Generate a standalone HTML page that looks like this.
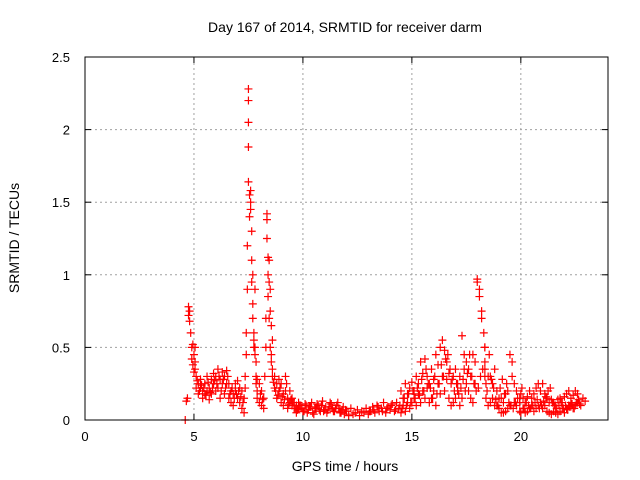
<!DOCTYPE html>
<html><head><meta charset="utf-8"><style>
html,body{margin:0;padding:0;background:#fff;}
svg{display:block;font-family:"Liberation Sans",sans-serif;}
</style></head><body>
<svg id="chart" width="640" height="480">
<rect width="640" height="480" fill="#fff"/>
<text x="345" y="32" text-anchor="middle" font-size="14">Day 167 of 2014, SRMTID for receiver darm</text>
<text x="345" y="471" text-anchor="middle" font-size="14">GPS time / hours</text>
<text transform="translate(19,238) rotate(-90)" text-anchor="middle" font-size="14">SRMTID / TECUs</text>
<g id="grid"></g><g id="axes"></g><g id="marks"></g>
<rect x="85" y="57" width="523" height="363" fill="none" stroke="#000" stroke-width="1"/>
</svg>
<script>
const xTicks=[0,5,10,15,20];
const yTicks=[0,0.5,1,1.5,2,2.5];
const yTickLabels=["0","0.5","1","1.5","2","2.5"];
const hours=[4.6,4.65,4.7,4.75,4.75,4.8,4.8,4.85,4.9,4.9,4.95,4.95,5.0,5.0,5.05,5.05,5.1,5.1,5.2,5.2,5.3,5.3,5.4,5.4,5.5,5.5,5.6,5.6,5.7,5.7,5.8,5.8,5.9,5.9,6.0,6.0,6.1,6.1,6.2,6.2,6.3,6.3,6.4,6.4,6.5,6.5,6.6,6.6,6.7,6.7,6.8,6.8,6.9,6.9,7.0,7.0,7.1,7.1,7.2,7.2,7.3,7.3,7.35,7.35,7.4,7.4,7.45,7.45,7.5,7.5,7.5,7.5,7.5,7.55,7.55,7.6,7.6,7.6,7.65,7.65,7.65,7.7,7.7,7.7,7.75,7.75,7.75,7.8,7.8,7.8,7.85,7.85,7.85,7.9,7.9,7.9,8.0,8.0,8.1,8.1,8.2,8.2,8.25,8.3,8.3,8.35,8.35,8.35,8.4,8.4,8.4,8.45,8.45,8.45,8.5,8.5,8.5,8.55,8.55,8.55,8.6,8.6,8.6,8.7,8.7,8.8,8.8,8.9,8.9,9.0,9.0,9.1,9.1,9.2,9.2,9.3,9.3,9.4,9.4,9.5,9.5,9.6,9.6,9.7,9.7,9.8,9.8,9.9,10.0,10.1,10.2,10.3,10.4,10.5,10.6,10.7,10.8,10.9,11.0,11.1,11.2,11.3,11.4,11.5,11.6,11.7,11.8,11.9,12.0,12.1,12.2,12.3,12.4,12.5,12.6,12.7,12.8,12.9,13.0,13.1,13.2,13.3,13.4,13.5,13.6,13.7,13.8,13.9,14.0,14.1,14.2,14.3,14.4,14.5,14.5,14.6,14.6,14.7,14.7,14.8,14.8,14.9,14.9,15.0,15.0,15.1,15.1,15.2,15.2,15.3,15.3,15.4,15.4,15.5,15.5,15.6,15.6,15.7,15.7,15.8,15.8,15.9,15.9,16.0,16.0,16.1,16.1,16.2,16.2,16.3,16.3,16.4,16.4,16.5,16.5,16.6,16.6,16.7,16.7,16.8,16.8,16.9,16.9,17.0,17.0,17.1,17.1,17.2,17.2,17.3,17.3,17.4,17.4,17.5,17.5,17.6,17.6,17.7,17.7,17.8,17.8,17.9,17.9,18.0,18.0,18.1,18.1,18.2,18.2,18.3,18.35,18.35,18.35,18.35,18.35,18.4,18.4,18.45,18.5,18.5,18.6,18.6,18.7,18.7,18.8,18.8,18.9,18.9,19.0,19.0,19.1,19.1,19.2,19.2,19.3,19.3,19.4,19.4,19.5,19.5,19.6,19.6,19.7,19.7,19.8,19.8,19.95,19.95,19.95,20.0,20.0,20.1,20.1,20.2,20.2,20.3,20.3,20.4,20.4,20.5,20.5,20.6,20.6,20.7,20.7,20.8,20.8,20.9,20.9,21.0,21.0,21.1,21.1,21.2,21.2,21.3,21.3,21.4,21.4,21.5,21.5,21.6,21.6,21.7,21.7,21.8,21.8,21.9,21.9,22.0,22.0,22.1,22.1,22.2,22.2,22.3,22.3,22.4,22.4,22.5,22.5,22.6,22.6,22.7,22.7,22.8,22.8,22.9,22.9,23.0,23.0];
const tec=[0.0,0.13,0.15,0.78,0.72,0.75,0.68,0.6,0.5,0.42,0.52,0.38,0.45,0.33,0.35,0.5,0.3,0.22,0.25,0.18,0.22,0.28,0.2,0.15,0.25,0.18,0.3,0.2,0.22,0.14,0.28,0.18,0.25,0.32,0.3,0.2,0.35,0.22,0.28,0.15,0.33,0.25,0.3,0.18,0.34,0.25,0.25,0.15,0.2,0.12,0.18,0.1,0.25,0.2,0.27,0.15,0.22,0.12,0.2,0.08,0.15,0.05,0.22,0.3,0.45,0.6,0.9,1.2,2.28,2.2,2.05,1.88,1.64,1.4,1.55,1.58,1.5,1.45,1.3,1.1,0.95,0.8,0.7,1.0,0.6,0.5,0.55,0.5,0.45,0.9,0.4,0.3,0.25,0.2,0.28,0.15,0.25,0.12,0.2,0.1,0.15,0.08,0.3,0.5,0.7,1.42,1.38,1.25,1.12,1.0,0.85,1.1,0.95,0.7,0.9,0.75,0.5,0.65,0.45,0.4,0.55,0.35,0.3,0.3,0.22,0.25,0.15,0.2,0.28,0.25,0.12,0.18,0.1,0.2,0.3,0.15,0.08,0.12,0.2,0.1,0.15,0.08,0.12,0.1,0.05,0.08,0.12,0.1,0.06,0.11,0.05,0.09,0.12,0.04,0.08,0.1,0.06,0.13,0.07,0.05,0.09,0.11,0.06,0.08,0.12,0.05,0.07,0.04,0.06,0.03,0.08,0.04,0.05,0.07,0.03,0.06,0.05,0.08,0.04,0.06,0.09,0.05,0.1,0.06,0.08,0.12,0.05,0.09,0.07,0.11,0.06,0.12,0.08,0.05,0.2,0.1,0.15,0.06,0.25,0.12,0.18,0.08,0.22,0.12,0.26,0.15,0.2,0.1,0.3,0.18,0.25,0.12,0.4,0.2,0.32,0.15,0.42,0.22,0.3,0.12,0.25,0.15,0.35,0.2,0.28,0.1,0.45,0.25,0.38,0.18,0.5,0.3,0.55,0.2,0.48,0.28,0.4,0.15,0.32,0.1,0.25,0.12,0.3,0.15,0.35,0.2,0.25,0.1,0.3,0.15,0.58,0.35,0.45,0.25,0.4,0.2,0.35,0.15,0.3,0.12,0.45,0.25,0.4,0.97,0.95,0.9,0.85,0.75,0.7,0.6,0.5,0.5,0.4,0.35,0.3,0.25,0.15,0.2,0.1,0.3,0.12,0.3,0.15,0.25,0.1,0.35,0.1,0.2,0.08,0.15,0.05,0.15,0.05,0.12,0.06,0.18,0.08,0.2,0.1,0.45,0.4,0.3,0.25,0.12,0.2,0.1,0.15,0.06,0.12,0.05,0.18,0.08,0.15,0.05,0.12,0.06,0.16,0.08,0.2,0.1,0.15,0.06,0.18,0.08,0.22,0.1,0.25,0.12,0.2,0.08,0.25,0.1,0.18,0.06,0.15,0.05,0.12,0.04,0.14,0.06,0.12,0.05,0.1,0.04,0.14,0.06,0.15,0.08,0.12,0.05,0.16,0.08,0.18,0.1,0.2,0.12,0.15,0.08,0.17,0.1,0.2,0.12,0.18,0.11];
const hours2=[5.05,5.15,5.25,5.35,5.45,5.55,5.65,5.75,5.85,5.95,6.05,6.15,6.25,6.35,6.45,6.55,6.65,6.75,6.85,6.95,7.05,7.15,7.25,8.05,8.15,8.65,8.75,8.85,8.95,9.05,9.15,9.25,9.35,9.45,9.55,9.65,9.75,9.85,9.95,10.05,10.15,10.25,10.35,10.45,10.55,10.65,10.75,10.85,10.95,11.05,11.15,11.25,11.35,11.45,11.55,11.65,11.75,11.85,11.95,13.05,13.25,13.45,13.65,13.85,14.05,14.25,14.45,14.55,14.65,14.75,14.85,14.95,15.05,15.15,15.25,15.35,15.45,15.55,15.65,15.75,15.85,15.95,16.05,16.15,16.25,16.35,16.45,16.55,16.65,16.75,16.85,16.95,17.05,17.15,17.25,17.35,17.45,17.55,17.65,17.75,17.85,17.95,18.05,18.15,18.25,18.55,18.65,18.75,18.85,18.95,19.05,19.15,19.25,19.35,19.45,19.55,19.65,19.75,19.85,20.05,20.15,20.25,20.35,20.45,20.55,20.65,20.75,20.85,20.95,21.05,21.15,21.25,21.35,21.45,21.55,21.65,21.75,21.85,21.95,22.05,22.15,22.25,22.35,22.45,22.55,22.65,22.75,22.85,22.95];
const tec2=[0.4,0.27,0.2,0.24,0.22,0.17,0.26,0.19,0.22,0.27,0.25,0.3,0.2,0.28,0.22,0.3,0.18,0.22,0.15,0.18,0.2,0.16,0.12,0.18,0.14,0.26,0.2,0.17,0.22,0.16,0.14,0.25,0.11,0.14,0.12,0.08,0.07,0.1,0.08,0.06,0.1,0.07,0.09,0.05,0.08,0.11,0.07,0.1,0.06,0.09,0.07,0.12,0.08,0.06,0.1,0.08,0.05,0.09,0.07,0.06,0.07,0.09,0.06,0.08,0.1,0.07,0.1,0.08,0.15,0.1,0.18,0.12,0.2,0.15,0.22,0.17,0.28,0.2,0.35,0.25,0.22,0.15,0.3,0.18,0.25,0.38,0.3,0.42,0.45,0.35,0.28,0.2,0.25,0.18,0.22,0.28,0.2,0.32,0.45,0.3,0.25,0.2,0.22,0.3,0.35,0.45,0.28,0.22,0.14,0.1,0.22,0.28,0.18,0.25,0.12,0.1,0.08,0.12,0.15,0.22,0.08,0.12,0.1,0.08,0.1,0.12,0.14,0.08,0.1,0.13,0.16,0.2,0.22,0.12,0.1,0.08,0.1,0.12,0.08,0.1,0.07,0.09,0.11,0.08,0.12,0.14,0.1,0.15,0.13];
const X0=85,X1=608,Y0=420,Y1=57,XMAX=24,YMAX=2.5;
const NS="http://www.w3.org/2000/svg";
function xs(h){return X0+(X1-X0)*h/XMAX;}
function ys(v){return Y0-(Y0-Y1)*v/YMAX;}
function mk(tag,attrs,parent){const e=document.createElementNS(NS,tag);for(const k in attrs)e.setAttribute(k,attrs[k]);parent.appendChild(e);return e;}
const grid=document.getElementById('grid'),axes=document.getElementById('axes'),marks=document.getElementById('marks');
xTicks.forEach(t=>{const x=xs(t);
 if(t>0){const g=mk('line',{x1:x,x2:x,y1:Y0,y2:Y1,stroke:'#a0a0a0','stroke-dasharray':'2,3'},grid);
 
 }
 mk('line',{x1:x,x2:x,y1:Y0,y2:Y0-6,stroke:'#000'},axes);
 mk('line',{x1:x,x2:x,y1:Y1,y2:Y1+6,stroke:'#000'},axes);
 const l=mk('text',{x:x,y:Y0+21,'text-anchor':'middle','font-size':13},axes);l.textContent=t;
 
 });
yTicks.forEach((t,i)=>{const y=ys(t);
 if(t>0&&t<YMAX){const g=mk('line',{x1:X0,x2:X1,y1:y,y2:y,stroke:'#a0a0a0','stroke-dasharray':'2,3'},grid);
 
 }
 mk('line',{x1:X0,x2:X0+6,y1:y,y2:y,stroke:'#000'},axes);
 mk('line',{x1:X1,x2:X1-6,y1:y,y2:y,stroke:'#000'},axes);
 const l=mk('text',{x:X0-15,y:y+5,'text-anchor':'end','font-size':13},axes);l.textContent=yTickLabels[i];
 
 });
function plotSeries(hs,vs){hs.forEach((h,i)=>{const x=xs(h),y=ys(vs[i]);
 const p=mk('path',{d:`M${x-4} ${y}H${x+4}M${x} ${y-4}V${y+4}`,stroke:'#f00','stroke-width':1.2,fill:'none'},marks);
 
 });}
plotSeries(hours,tec);
plotSeries(hours2,tec2);
</script>
</body></html>
